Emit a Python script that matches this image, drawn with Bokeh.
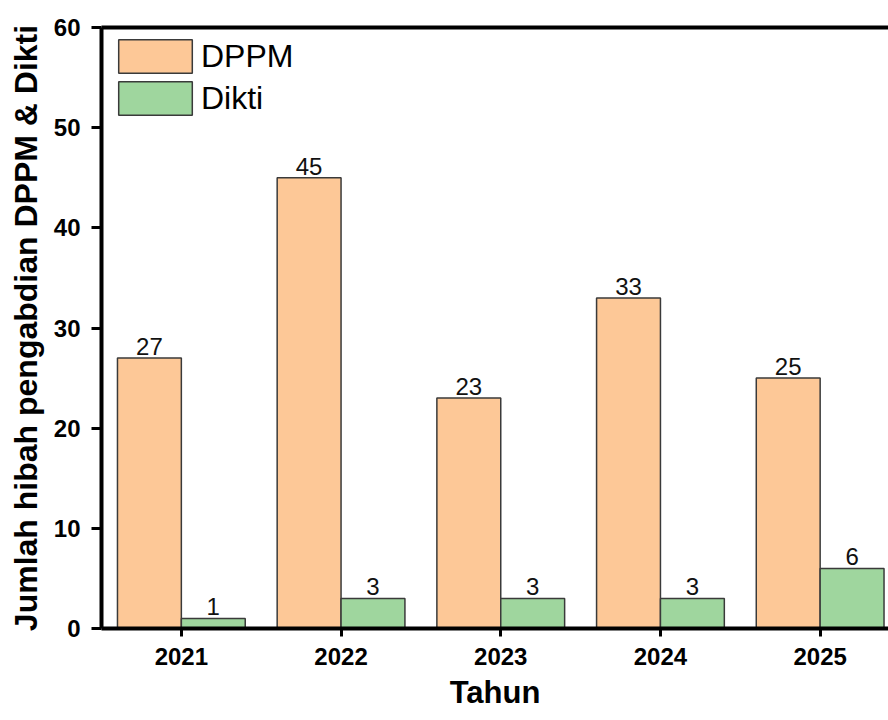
import numpy as np
from bokeh.plotting import figure
from bokeh.models import ColumnDataSource, FixedTicker, LinearAxis, Range1d
from bokeh.transform import dodge
from bokeh.core.properties import value
from bokeh.embed import file_html
from bokeh.resources import INLINE

# ---- data ----
years = ["2021", "2022", "2023", "2024", "2025"]
dppm = [27, 45, 23, 33, 25]
dikti = [1, 3, 3, 3, 6]
y_ticks = [0, 10, 20, 30, 40, 50, 60]
series_names = ["DPPM", "Dikti"]
x_title = "Tahun"
y_title = "Jumlah hibah pengabdian DPPM & Dikti"

FONT = "Liberation Sans"
C_DPPM = "#FDC897"
C_DIKTI = "#9FD69E"
EDGE = "#3a3a3a"

W, H = 888, 720
FL, FT, FB = 101, 27, 628          # frame left / top / bottom (px)
CAT_PX = 159.7                      # pixels per category

pos = list(range(1, len(years) + 1))
src = ColumnDataSource(dict(
    pos=pos, dppm=dppm, dikti=dikti,
    dppm_t=[str(v) for v in dppm], dikti_t=[str(v) for v in dikti],
))

p = figure(width=W, height=H, output_backend="svg", toolbar_location=None,
           x_range=Range1d(0.5, 0.5 + (W - FL) / CAT_PX), y_range=Range1d(0, 60),
           min_border_left=FL, min_border_top=FT, min_border_bottom=H - FB,
           min_border_right=0)
p.grid.visible = False
p.outline_line_color = None
p.background_fill_color = "white"
p.border_fill_color = "white"

p.vbar(x=dodge("pos", -0.2), top="dppm", width=0.4, fill_color=C_DPPM,
       line_color=EDGE, line_width=1.5, source=src, legend_label=series_names[0])
p.vbar(x=dodge("pos", 0.2), top="dikti", width=0.4, fill_color=C_DIKTI,
       line_color=EDGE, line_width=1.5, source=src, legend_label=series_names[1])

for fld, off in (("dppm", -0.2), ("dikti", 0.2)):
    p.text(x=dodge("pos", off), y=fld, text=fld + "_t", source=src,
           text_align="center", text_baseline="bottom", y_offset=-3,
           text_font=value(FONT), text_font_size="24px", text_color="#111111")

# axes
xa = p.xaxis[0]
xa.ticker = FixedTicker(ticks=pos)
xa.major_label_overrides = {i: y for i, y in zip(pos, years)}
ya = p.yaxis[0]
ya.ticker = FixedTicker(ticks=y_ticks)
for ax in (xa, ya):
    ax.axis_line_width = 4
    ax.axis_line_color = "black"
    ax.major_tick_line_width = 3
    ax.major_tick_line_color = "black"
    ax.major_tick_in = 0
    ax.minor_tick_line_color = None
    ax.major_label_text_font = FONT
    ax.major_label_text_font_style = "bold"
    ax.major_label_text_font_size = "24px"
    ax.major_label_text_color = "black"
    ax.axis_label_text_font = FONT
    ax.axis_label_text_font_style = "bold"
    ax.axis_label_text_color = "black"
xa.major_tick_out = 8
xa.major_label_standoff = 11
xa.axis_label = x_title
xa.axis_label_text_font_size = "31px"
xa.axis_label_standoff = 7
ya.major_tick_out = 10
ya.major_label_standoff = 11
ya.axis_label = y_title
ya.axis_label_text_font_size = "32px"
ya.axis_label_standoff = 7

top = LinearAxis(ticker=FixedTicker(ticks=[]), axis_line_width=4,
                 axis_line_color="black", major_tick_line_color=None,
                 minor_tick_line_color=None, major_label_text_font_size="0px")
p.add_layout(top, "above")

lg = p.legend[0]
lg.location = "top_left"
lg.glyph_width = 92
lg.glyph_height = 42
lg.label_text_font = FONT
lg.label_text_font_size = "32px"
lg.label_text_color = "black"
lg.label_standoff = 0
lg.border_line_color = None
lg.background_fill_alpha = 0
lg.margin = 8
lg.padding = 0
lg.spacing = -3

open("out.html", "w").write(file_html(p, INLINE))
